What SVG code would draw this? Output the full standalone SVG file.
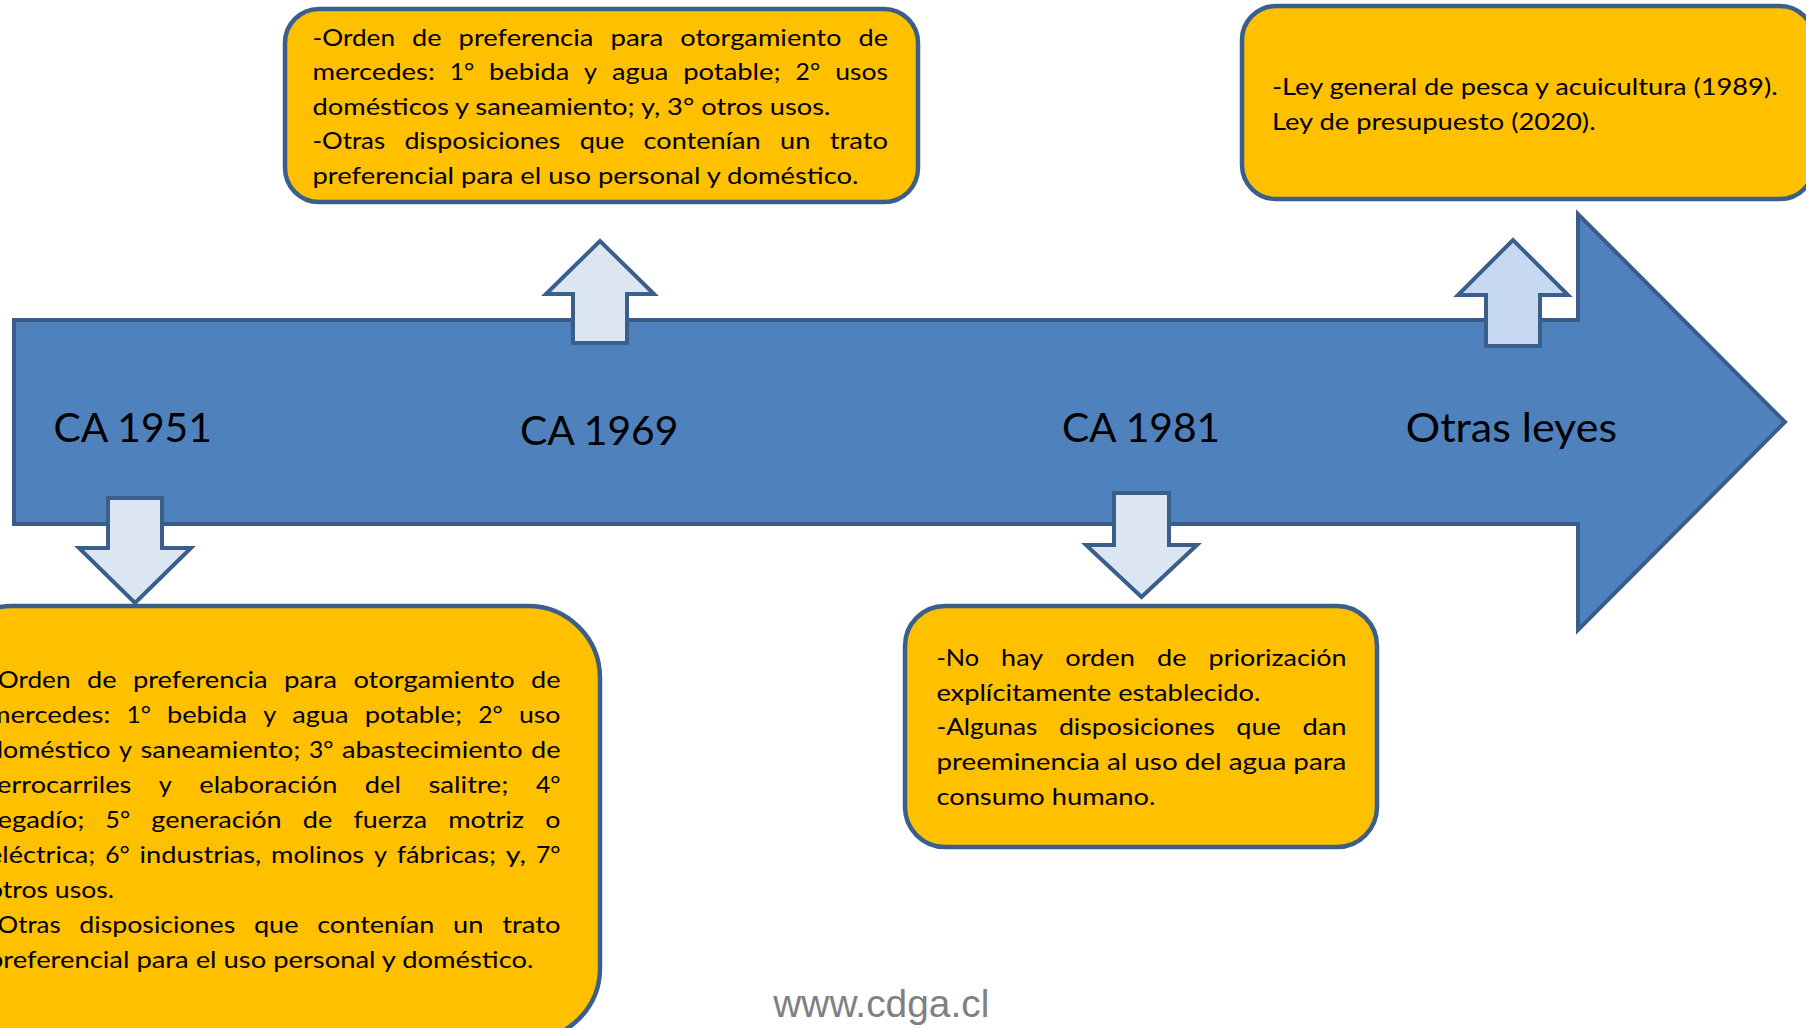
<svg xmlns="http://www.w3.org/2000/svg" width="1806" height="1028" viewBox="0 0 1806 1028">
<style>
.bg{fill:#ffffff}
.main{fill:#4F81BD;stroke:#385D8A;stroke-width:4;stroke-linejoin:miter}
.box{fill:#FFC000;stroke:#3A5F8B;stroke-width:4.5}
.blk{fill:#DCE6F2;stroke:#3A5F8B;stroke-width:4;stroke-linejoin:miter}
.blk2{fill:#C6D9F0;stroke:#3A5F8B;stroke-width:4;stroke-linejoin:miter}
.t{font-family:Lato,"Open Sans","Liberation Sans",sans-serif;font-size:24px;fill:#000}
.lbl{font-family:Lato,"Open Sans","Liberation Sans",sans-serif;font-size:40px;fill:#000}
.wm{font-family:"Liberation Sans",Arial,sans-serif;font-size:38px;fill:#808080}
</style>
<rect class="bg" x="0" y="0" width="1806" height="1028"/>

<g id="timeline">
  <path class="main" d="M14,320 H1578 V214 L1785,422 L1578,630 V524 H14 Z"/>
  <text class="lbl" x="53.4" y="441.7" textLength="158.5" lengthAdjust="spacingAndGlyphs">CA 1951</text>
  <text class="lbl" x="519.9" y="444.5" textLength="158.5" lengthAdjust="spacingAndGlyphs">CA 1969</text>
  <text class="lbl" x="1061.9" y="441.7" textLength="158.3" lengthAdjust="spacingAndGlyphs">CA 1981</text>
  <text class="lbl" x="1405.8" y="441.7" textLength="211.2" lengthAdjust="spacingAndGlyphs">Otras leyes</text>
</g>

<g id="connectors">
  <path class="blk" d="M573,343 V294 H546 L600,241 L654,294 H627 V343 Z"/>
  <path class="blk2" d="M1486,346 V295 H1458 L1513,240 L1568,295 H1540 V346 Z"/>
  <path class="blk" d="M108,498 V548 H79 L135,603 L191,548 H162 V498 Z"/>
  <path class="blk" d="M1114,493 V545 H1086 L1141.5,597 L1197,545 H1169 V493 Z"/>
</g>

<g id="box-ca1969">
  <rect class="box" x="285" y="9" width="633" height="193" rx="34" ry="34"/>
  <text class="t" y="45.5"><tspan x="312.5" textLength="82.5" lengthAdjust="spacingAndGlyphs">-Orden</tspan><tspan x="412.1" textLength="29.5" lengthAdjust="spacingAndGlyphs">de</tspan><tspan x="458.6" textLength="134.7" lengthAdjust="spacingAndGlyphs">preferencia</tspan><tspan x="610.4" textLength="52.8" lengthAdjust="spacingAndGlyphs">para</tspan><tspan x="680.2" textLength="161.3" lengthAdjust="spacingAndGlyphs">otorgamiento</tspan><tspan x="858.5" textLength="29.5" lengthAdjust="spacingAndGlyphs">de</tspan></text>
  <text class="t" y="80"><tspan x="312.5" textLength="122.3" lengthAdjust="spacingAndGlyphs">mercedes:</tspan><tspan x="449.7" textLength="24.5" lengthAdjust="spacingAndGlyphs">1°</tspan><tspan x="489.1" textLength="80.1" lengthAdjust="spacingAndGlyphs">bebida</tspan><tspan x="584.1" textLength="13" lengthAdjust="spacingAndGlyphs">y</tspan><tspan x="612" textLength="56.3" lengthAdjust="spacingAndGlyphs">agua</tspan><tspan x="683.2" textLength="97.5" lengthAdjust="spacingAndGlyphs">potable;</tspan><tspan x="795.6" textLength="24.5" lengthAdjust="spacingAndGlyphs">2°</tspan><tspan x="835.2" textLength="52.8" lengthAdjust="spacingAndGlyphs">usos</tspan></text>
  <text class="t" x="312.5" y="114.5" textLength="518" lengthAdjust="spacingAndGlyphs">domésticos y saneamiento; y, 3° otros usos.</text>
  <text class="t" y="149"><tspan x="312.5" textLength="72.6" lengthAdjust="spacingAndGlyphs">-Otras</tspan><tspan x="404.4" textLength="155.9" lengthAdjust="spacingAndGlyphs">disposiciones</tspan><tspan x="579.7" textLength="44.6" lengthAdjust="spacingAndGlyphs">que</tspan><tspan x="643.6" textLength="117.1" lengthAdjust="spacingAndGlyphs">contenían</tspan><tspan x="780" textLength="30.3" lengthAdjust="spacingAndGlyphs">un</tspan><tspan x="829.7" textLength="58.3" lengthAdjust="spacingAndGlyphs">trato</tspan></text>
  <text class="t" x="312.5" y="183.5" textLength="546" lengthAdjust="spacingAndGlyphs">preferencial para el uso personal y doméstico.</text>
</g>

<g id="box-otras">
  <rect class="box" x="1242" y="6" width="572" height="193" rx="34" ry="34"/>
  <text class="t" x="1272" y="95" textLength="505.6" lengthAdjust="spacingAndGlyphs">-Ley general de pesca y acuicultura (1989).</text>
  <text class="t" x="1272" y="130" textLength="323.6" lengthAdjust="spacingAndGlyphs">Ley de presupuesto (2020).</text>
</g>

<g id="box-ca1951">
  <rect class="box" x="-60" y="606" width="660" height="434" rx="72" ry="72"/>
  <text class="t" y="688"><tspan x="-12" textLength="82.5" lengthAdjust="spacingAndGlyphs">-Orden</tspan><tspan x="87" textLength="29.5" lengthAdjust="spacingAndGlyphs">de</tspan><tspan x="132.9" textLength="134.7" lengthAdjust="spacingAndGlyphs">preferencia</tspan><tspan x="284.1" textLength="52.8" lengthAdjust="spacingAndGlyphs">para</tspan><tspan x="353.4" textLength="161.3" lengthAdjust="spacingAndGlyphs">otorgamiento</tspan><tspan x="531" textLength="29.5" lengthAdjust="spacingAndGlyphs">de</tspan></text>
  <text class="t" y="723"><tspan x="-12" textLength="122.3" lengthAdjust="spacingAndGlyphs">mercedes:</tspan><tspan x="126.4" textLength="24.5" lengthAdjust="spacingAndGlyphs">1°</tspan><tspan x="167" textLength="80.1" lengthAdjust="spacingAndGlyphs">bebida</tspan><tspan x="263.2" textLength="13" lengthAdjust="spacingAndGlyphs">y</tspan><tspan x="292.3" textLength="56.3" lengthAdjust="spacingAndGlyphs">agua</tspan><tspan x="364.7" textLength="97.5" lengthAdjust="spacingAndGlyphs">potable;</tspan><tspan x="478.3" textLength="24.5" lengthAdjust="spacingAndGlyphs">2°</tspan><tspan x="518.9" textLength="41.6" lengthAdjust="spacingAndGlyphs">uso</tspan></text>
  <text class="t" y="758"><tspan x="-12" textLength="122.5" lengthAdjust="spacingAndGlyphs">doméstico</tspan><tspan x="119" textLength="13" lengthAdjust="spacingAndGlyphs">y</tspan><tspan x="140.5" textLength="159.9" lengthAdjust="spacingAndGlyphs">saneamiento;</tspan><tspan x="308.9" textLength="24.5" lengthAdjust="spacingAndGlyphs">3°</tspan><tspan x="341.9" textLength="180.7" lengthAdjust="spacingAndGlyphs">abastecimiento</tspan><tspan x="531" textLength="29.5" lengthAdjust="spacingAndGlyphs">de</tspan></text>
  <text class="t" y="793"><tspan x="-12" textLength="143.3" lengthAdjust="spacingAndGlyphs">ferrocarriles</tspan><tspan x="158.8" textLength="13" lengthAdjust="spacingAndGlyphs">y</tspan><tspan x="199.3" textLength="138" lengthAdjust="spacingAndGlyphs">elaboración</tspan><tspan x="364.8" textLength="36.1" lengthAdjust="spacingAndGlyphs">del</tspan><tspan x="428.4" textLength="80" lengthAdjust="spacingAndGlyphs">salitre;</tspan><tspan x="536" textLength="24.5" lengthAdjust="spacingAndGlyphs">4°</tspan></text>
  <text class="t" y="828"><tspan x="-12" textLength="96.4" lengthAdjust="spacingAndGlyphs">regadío;</tspan><tspan x="105.6" textLength="24.5" lengthAdjust="spacingAndGlyphs">5°</tspan><tspan x="151.3" textLength="130.3" lengthAdjust="spacingAndGlyphs">generación</tspan><tspan x="302.8" textLength="29.5" lengthAdjust="spacingAndGlyphs">de</tspan><tspan x="353.5" textLength="73.5" lengthAdjust="spacingAndGlyphs">fuerza</tspan><tspan x="448.2" textLength="75.9" lengthAdjust="spacingAndGlyphs">motriz</tspan><tspan x="545.3" textLength="15.2" lengthAdjust="spacingAndGlyphs">o</tspan></text>
  <text class="t" y="863"><tspan x="-12" textLength="107.4" lengthAdjust="spacingAndGlyphs">eléctrica;</tspan><tspan x="105.2" textLength="24.5" lengthAdjust="spacingAndGlyphs">6°</tspan><tspan x="139.5" textLength="121.8" lengthAdjust="spacingAndGlyphs">industrias,</tspan><tspan x="271.1" textLength="93" lengthAdjust="spacingAndGlyphs">molinos</tspan><tspan x="373.9" textLength="13" lengthAdjust="spacingAndGlyphs">y</tspan><tspan x="396.7" textLength="99.3" lengthAdjust="spacingAndGlyphs">fábricas;</tspan><tspan x="505.8" textLength="20.2" lengthAdjust="spacingAndGlyphs">y,</tspan><tspan x="536" textLength="24.5" lengthAdjust="spacingAndGlyphs">7°</tspan></text>
  <text class="t" x="-12" y="898" textLength="126" lengthAdjust="spacingAndGlyphs">otros usos.</text>
  <text class="t" y="933"><tspan x="-12" textLength="72.6" lengthAdjust="spacingAndGlyphs">-Otras</tspan><tspan x="79.3" textLength="155.9" lengthAdjust="spacingAndGlyphs">disposiciones</tspan><tspan x="253.9" textLength="44.6" lengthAdjust="spacingAndGlyphs">que</tspan><tspan x="317.2" textLength="117.1" lengthAdjust="spacingAndGlyphs">contenían</tspan><tspan x="453.1" textLength="30.3" lengthAdjust="spacingAndGlyphs">un</tspan><tspan x="502.2" textLength="58.3" lengthAdjust="spacingAndGlyphs">trato</tspan></text>
  <text class="t" x="-12" y="968" textLength="545.5" lengthAdjust="spacingAndGlyphs">preferencial para el uso personal y doméstico.</text>
</g>

<g id="box-ca1981">
  <rect class="box" x="905" y="606" width="472" height="241" rx="40" ry="40"/>
  <text class="t" y="666"><tspan x="936.4" textLength="42.6" lengthAdjust="spacingAndGlyphs">-No</tspan><tspan x="1001.1" textLength="42" lengthAdjust="spacingAndGlyphs">hay</tspan><tspan x="1065.2" textLength="69.8" lengthAdjust="spacingAndGlyphs">orden</tspan><tspan x="1157.1" textLength="29.5" lengthAdjust="spacingAndGlyphs">de</tspan><tspan x="1208.6" textLength="137.9" lengthAdjust="spacingAndGlyphs">priorización</tspan></text>
  <text class="t" x="936.4" y="700.5" textLength="324" lengthAdjust="spacingAndGlyphs">explícitamente establecido.</text>
  <text class="t" y="735"><tspan x="936.4" textLength="101" lengthAdjust="spacingAndGlyphs">-Algunas</tspan><tspan x="1058.9" textLength="155.9" lengthAdjust="spacingAndGlyphs">disposiciones</tspan><tspan x="1236.3" textLength="44.6" lengthAdjust="spacingAndGlyphs">que</tspan><tspan x="1302.4" textLength="44.1" lengthAdjust="spacingAndGlyphs">dan</tspan></text>
  <text class="t" x="936.4" y="770" textLength="410" lengthAdjust="spacingAndGlyphs">preeminencia al uso del agua para</text>
  <text class="t" x="936.4" y="805" textLength="219" lengthAdjust="spacingAndGlyphs">consumo humano.</text>
</g>

<g id="watermark">
  <text class="wm" x="773.3" y="1017" textLength="216" lengthAdjust="spacingAndGlyphs">www.cdga.cl</text>
</g>
</svg>
